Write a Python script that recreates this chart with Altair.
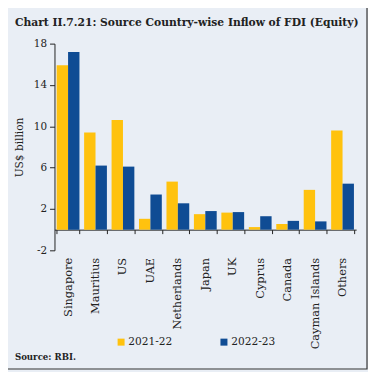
import altair as alt
import pandas as pd

countries = ["Singapore", "Mauritius", "US", "UAE", "Netherlands", "Japan", "UK",
             "Cyprus", "Canada", "Cayman Islands", "Others"]
fy2122 = [15.9, 9.4, 10.6, 1.05, 4.65, 1.5, 1.65, 0.25, 0.55, 3.85, 9.6]
fy2223 = [17.2, 6.2, 6.1, 3.4, 2.55, 1.8, 1.7, 1.3, 0.85, 0.8, 4.45]
series = ["2021-22", "2022-23"]
colors = ["#FFC20E", "#0F4C94"]
y_ticks = [-2, 2, 6, 10, 14, 18]
title_text = "Chart II.7.21: Source Country-wise Inflow of FDI (Equity)"
source_text = "Source: RBI."

rows = []
for c, a, b in zip(countries, fy2122, fy2223):
    rows.append({"country": c, "year": series[0], "value": a})
    rows.append({"country": c, "year": series[1], "value": b})
df = pd.DataFrame(rows)

FONT = "DejaVu Serif"
W, H = 305, 209
BG = "#E9EEF5"

bars = alt.Chart(df).mark_bar().encode(
    x=alt.X("country:N", sort=countries,
            scale=alt.Scale(paddingInner=0.17, paddingOuter=0.08),
            axis=alt.Axis(title=None, labelAngle=-90, labelAlign="right", labelBaseline="middle",
                          offset=-H / 10, tickBand="extent", tickSize=4, labelPadding=24,
                          domainColor="#222", tickColor="#222", labelColor="#222",
                          labelFont=FONT, labelFontSize=11.5)),
    xOffset=alt.XOffset("year:N", sort=series),
    y=alt.Y("value:Q", scale=alt.Scale(domain=[-2, 18], nice=False, zero=False),
            axis=alt.Axis(values=y_ticks, title="US$ billion", grid=False, tickSize=5,
                          labelExpr="replace(datum.label, '−', '-')",
                          labelPadding=3, titlePadding=9, domainColor="#222", tickColor="#222",
                          labelColor="#222", titleColor="#222", labelFont=FONT, titleFont=FONT,
                          labelFontSize=10.5, titleFontSize=10.7, titleFontWeight="normal")),
    color=alt.Color("year:N", sort=series, scale=alt.Scale(domain=series, range=colors),
                    legend=alt.Legend(title=None, orient="none", legendX=62, legendY=296,
                                      direction="horizontal", columns=2, columnPadding=46,
                                      symbolType="square", symbolSize=50, symbolStrokeWidth=0,
                                      labelFont=FONT, labelFontSize=10.7, labelColor="#222",
                                      labelOffset=2)),
)

border = alt.Chart(pd.DataFrame({"a": [0]})).mark_rect(
    fill=None, stroke="#333", strokeWidth=1.2).encode(
    x=alt.value(-51), x2=alt.value(W + 11), y=alt.value(-38), y2=alt.value(H + 120))

title = alt.Chart(pd.DataFrame({"t": [title_text]})).mark_text(
    align="left", baseline="middle", font=FONT, fontSize=10.85, fontWeight="bold", color="#222"
).encode(x=alt.value(-40), y=alt.value(-21), text="t:N")

source = alt.Chart(pd.DataFrame({"t": [source_text]})).mark_text(
    align="left", baseline="middle", font=FONT, fontSize=8.7, fontWeight="bold", color="#222"
).encode(x=alt.value(-40), y=alt.value(H + 108), text="t:N")

chart = alt.layer(border, bars, title, source).properties(
    width=W, height=H,
    autosize=alt.AutoSizeParams(type="none"),
    padding={"left": 47, "top": 34, "right": 12, "bottom": 121},
    background=BG,
).configure_view(stroke=None)

chart.save("out.html", embed_options={"renderer": "svg", "actions": False})
